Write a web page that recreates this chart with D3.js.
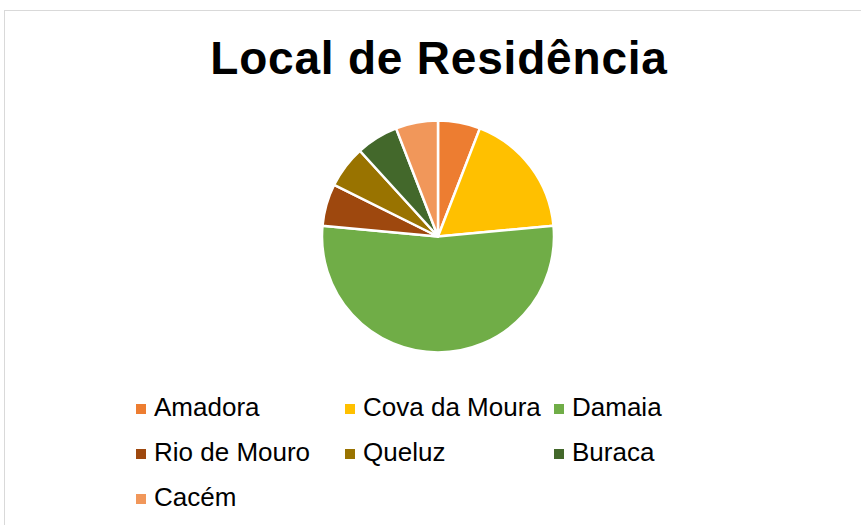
<!DOCTYPE html>
<html>
<head>
<meta charset="utf-8">
<script src="https://cdn.jsdelivr.net/npm/d3@7"></script>
<style>
  body { margin: 0; background: #fff; }
  svg text { font-family: "Liberation Sans", Arial, sans-serif; }
</style>
</head>
<body>
<div class="main_area"></div>
<script>
const categories = ["Amadora", "Cova da Moura", "Damaia", "Rio de Mouro", "Queluz", "Buraca", "Cacém"];
const values = [1, 3, 9, 1, 1, 1, 1];
const colors = ["#ED7D31", "#FFC000", "#70AD47", "#9E480E", "#997300", "#43682B", "#F1975A"];
const chartTitle = "Local de Residência";

function drawPie() {
  const width = 861, height = 525;

  const svg = d3.select(".main_area")
    .append("svg")
    .attr("width", width)
    .attr("height", height);

  // chart frame
  svg.append("rect")
    .attr("x", 4.5)
    .attr("y", 10.5)
    .attr("width", 880)
    .attr("height", 560)
    .attr("fill", "#fff")
    .attr("stroke", "#d9d9d9")
    .attr("stroke-width", 1);

  svg.append("text")
    .attr("x", 439)
    .attr("y", 74)
    .attr("text-anchor", "middle")
    .attr("font-size", 46)
    .attr("font-weight", "bold")
    .attr("letter-spacing", 0.8)
    .text(chartTitle);

  const data = categories.map((c, i) => ({name: c, value: values[i]}));

  const color = d3.scaleOrdinal()
    .domain(categories)
    .range(colors);

  const pie = d3.pie()
    .sort(null)
    .value(d => d.value);

  const arc = d3.arc()
    .innerRadius(0)
    .outerRadius(116);

  const plot = svg.append("g")
    .attr("transform", "translate(" + [438, 236.5] + ")");

  plot.selectAll("path")
    .data(pie(data))
    .enter().append("path")
      .attr("d", arc)
      .attr("fill", d => color(d.data.name))
      .attr("stroke", "#fff")
      .attr("stroke-width", 2.5)
      .attr("stroke-linejoin", "round");

  // legend, 3 columns
  const colX = [136, 345, 554];
  const rowY = [409, 454, 499];

  const legend = svg.append("g")
    .selectAll("g")
    .data(data)
    .enter().append("g")
      .attr("transform", (d, i) => "translate(" + [colX[i % 3], rowY[Math.floor(i / 3)]] + ")");

  legend.append("rect")
    .attr("x", 0)
    .attr("y", -5)
    .attr("width", 10)
    .attr("height", 10)
    .attr("fill", d => color(d.name));

  legend.append("text")
    .attr("x", 18)
    .attr("y", 7)
    .attr("font-size", 26)
    .attr("fill", "#000")
    .text(d => d.name);

  return svg;
}

drawPie();
</script>
</body>
</html>
